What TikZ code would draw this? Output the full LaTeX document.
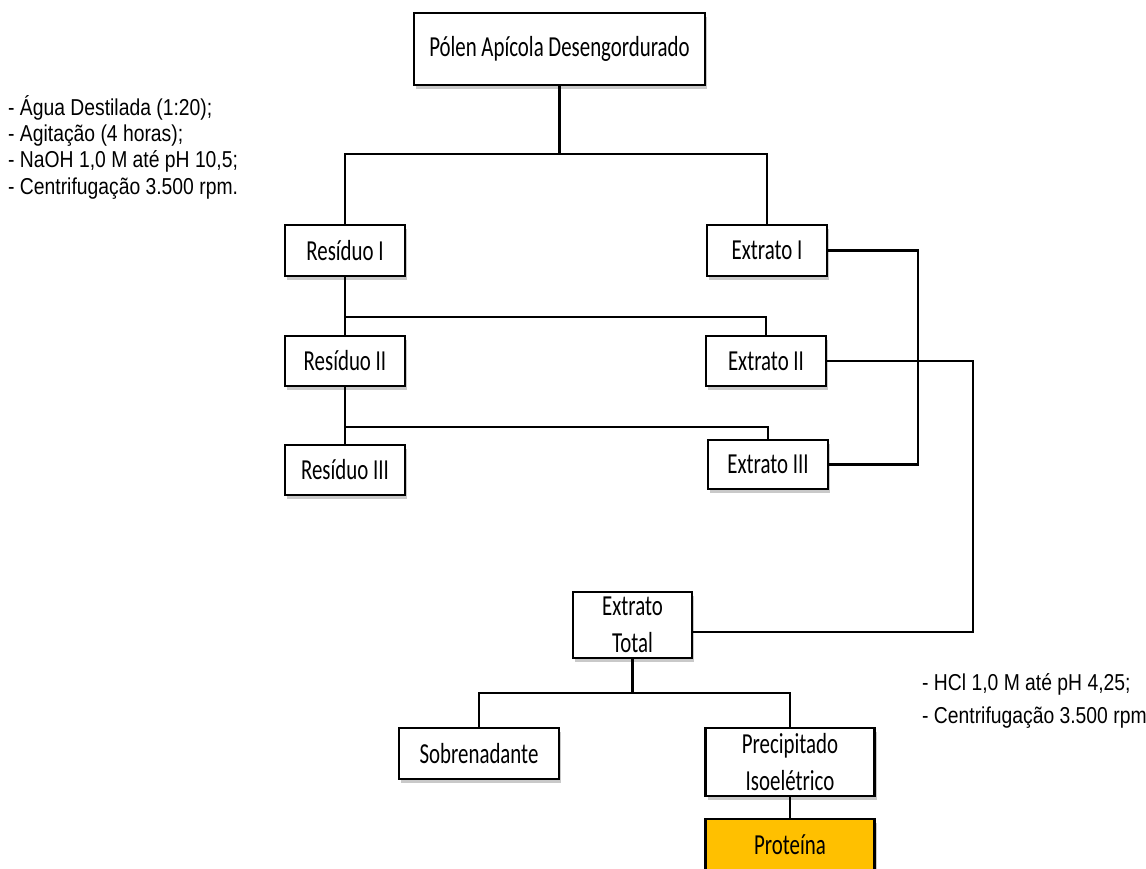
\documentclass[tikz,border=0pt]{standalone}
\usepackage{fontspec}
\newfontfamily\boxfont[FakeStretch=0.72]{Carlito}
\newfontfamily\notefont[FakeStretch=0.84]{Liberation Sans}
\usetikzlibrary{shadows,calc}
\definecolor{protcol}{HTML}{FFC000}
\begin{document}
\begin{tikzpicture}[x=1pt,y=-1pt,
  box/.style={draw, line width=2.7pt, fill=white, rectangle, inner sep=0pt, align=center,
    font=\boxfont\fontsize{29}{36.5}\selectfont,
    drop shadow={shadow xshift=2pt, shadow yshift=-4pt, opacity=0.35, fill=black!60}},
  conn/.style={line width=2.2pt},
  note/.style={inner sep=0pt, align=left, font=\notefont\fontsize{23}{26.3}\selectfont}]
\useasboundingbox (0,0) rectangle (1146,868);
\clip (0,0) rectangle (1146,868);
\fill[white] (0,0) rectangle (1146,868);

\node[box, minimum width=291pt, minimum height=72pt] (top) at (559.5,49) {Pólen Apícola Desengordurado};
\node[box, minimum width=120pt, minimum height=51pt] (res1) at (345,250.5) {Resíduo I};
\node[box, minimum width=120pt, minimum height=51pt] (ext1) at (767,250.5) {Extrato I};
\node[box, minimum width=120pt, minimum height=50pt] (res2) at (345,361) {Resíduo II};
\node[box, minimum width=120pt, minimum height=50pt] (ext2) at (766,361) {Extrato II};
\node[box, minimum width=120pt, minimum height=50pt] (res3) at (345,470) {Resíduo III};
\node[box, minimum width=120pt, minimum height=49pt] (ext3) at (768,464.5) {Extrato III};
\node[box, minimum width=119pt, minimum height=66pt] (tot) at (632.5,625) {Extrato\\Total};
\node[box, minimum width=160pt, minimum height=51pt] (sob) at (479,753.5) {Sobrenadante};
\node[box, minimum width=169pt, minimum height=68pt] (prec) at (790,762) {Precipitado\\Isoelétrico};
\node[box, fill=protcol, minimum width=169pt, minimum height=52pt] (prot) at (790,845) {Proteína};

\coordinate (h1) at (0,154);
\coordinate (h2) at (0,317);
\coordinate (h3) at (0,427);
\coordinate (h4) at (0,693);
\coordinate (v1) at (918,0);
\coordinate (v2) at (973,0);
\coordinate (tin) at ([yshift=-7pt]tot.east);

\draw[conn] (top.south) -- (top.south |- h1);
\draw[conn] (res1.north) -- (res1.north |- h1) -| (ext1.north);
\draw[conn] (res1.south) -- (res2.north);
\draw[conn] (res1.south |- h2) -| (ext2.north);
\draw[conn] (res2.south) -- (res3.north);
\draw[conn] (res2.south |- h3) -| (ext3.north);
\draw[conn] (ext1.east) -- (ext1.east -| v1) -- (v1 |- ext3.east) -- (ext3.east);
\draw[conn] (ext2.east) -- (ext2.east -| v2) -- (v2 |- tin) -- (tin);
\draw[conn] (tot.south) -- (tot.south |- h4);
\draw[conn] (sob.north) -- (sob.north |- h4) -| (prec.north);
\draw[conn] (prec.south) -- (prot.north);

\node[note, anchor=north west] (n1) at (8,95) {- Água Destilada (1:20);\\- Agitação (4 horas);\\- NaOH 1,0 M até pH 10,5;\\- Centrifugação 3.500 rpm.};
\node[note, anchor=north west, font=\notefont\fontsize{23}{33}\selectfont] (n2) at (922,673) {- HCl 1,0 M até pH 4,25;\\- Centrifugação 3.500 rpm};
\end{tikzpicture}
\end{document}
